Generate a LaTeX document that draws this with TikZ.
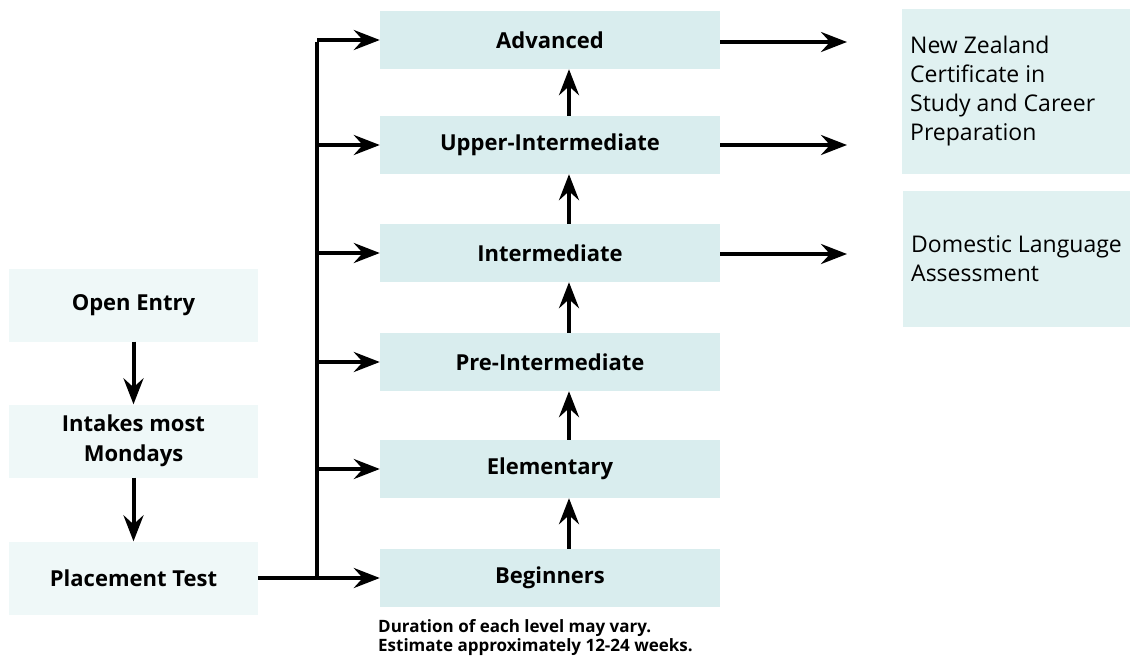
\documentclass[tikz,border=0pt]{standalone}
\usepackage{fontspec}
\setmainfont{Open Sans}
\usetikzlibrary{arrows.meta,positioning}
\definecolor{lvcol}{RGB}{217,237,238}
\definecolor{stcol}{RGB}{239,248,248}
\definecolor{outcol}{RGB}{224,241,241}
\tikzset
    {
        lv/.style = {fill=lvcol, minimum width=340pt, minimum height=58pt, inner sep=0pt,
                     font=\bfseries\fontsize{22}{30}\selectfont},
        st/.style = {fill=stcol, minimum width=249pt, minimum height=73pt, inner sep=0pt,
                     align=center, font=\bfseries\fontsize{22}{30}\selectfont},
        res/.style = {fill=outcol, anchor=west, minimum width=228pt, text width=225pt, inner xsep=8pt,
                      align=flush left, font=\fontsize{23}{29}\selectfont},
        link/.style = {line width=4pt, -{Stealth[length=26pt,width=20pt,inset=9pt]}}
    }

\begin{document}
\begin{tikzpicture}[x=1pt, y=-1pt]
                        \useasboundingbox (0,0) rectangle (1130,659);
                        % levels
                        \node [lv] (adv) at (550,40) {Advanced};
                        \node [lv] (upp) at (550,145) {Upper-Intermediate};
                        \node [lv] (int) at (550,253) {Intermediate};
                        \node [lv] (pre) at (550,362) {Pre-Intermediate};
                        \node [lv] (ele) at (550,469) {Elementary};
                        \node [lv] (beg) at (550,578) {Beginners};
                        % entry
                        \node [st] (open) at (133.5,305) {Open Entry};
                        \node [st] (intk) at (133.5,441) {Intakes most\\Mondays};
                        \node [st] (plc) at (133.5,578) {Placement Test};
                        % results
                        \node [res, minimum height=165pt] (nzc) at (902,91.5)
                            {New Zealand\\Certificate in\\Study and Career\\Preparation};
                        \node [res, minimum height=136pt] (dla) at (903,259)
                            {Domestic Language\\Assessment};
                        \node [anchor=north west, inner sep=0pt, align=left,
                               font=\bfseries\fontsize{17}{19}\selectfont] (note) at (378,619)
                            {Duration of each level may vary.\\Estimate approximately 12-24 weeks.};
                        \coordinate (tk) at (317,0);
                        \coordinate (r1) at (847,42);
                        \coordinate (r2) at (847,145);
                        \coordinate (r3) at (847,254);
                        % connectors
                        \draw [link] (open) -- (intk);
                        \draw [link] (intk) -- (plc);
                        \draw [link] (plc) -- (beg);
                        \draw [line width=4pt] (tk |- beg.west) -- ([yshift=-2pt]tk |- adv.west);
                        \draw [link] (tk |- adv.west) -- (adv.west);
                        \draw [link] (tk |- upp.west) -- (upp.west);
                        \draw [link] (tk |- int.west) -- (int.west);
                        \draw [link] (tk |- pre.west) -- (pre.west);
                        \draw [link] (tk |- ele.west) -- (ele.west);
                        \draw [link] ([xshift=19pt]beg.north) -- ([xshift=19pt]ele.south);
                        \draw [link] ([xshift=19pt]ele.north) -- ([xshift=19pt]pre.south);
                        \draw [link] ([xshift=19pt]pre.north) -- ([xshift=19pt]int.south);
                        \draw [link] ([xshift=19pt]int.north) -- ([xshift=19pt]upp.south);
                        \draw [link] ([xshift=19pt]upp.north) -- ([xshift=19pt]adv.south);
                        \draw [link] (adv.east |- r1) -- (r1);
                        \draw [link] (upp.east) -- (r2);
                        \draw [link] (int.east |- r3) -- (r3);
\end{tikzpicture}
\end{document}
